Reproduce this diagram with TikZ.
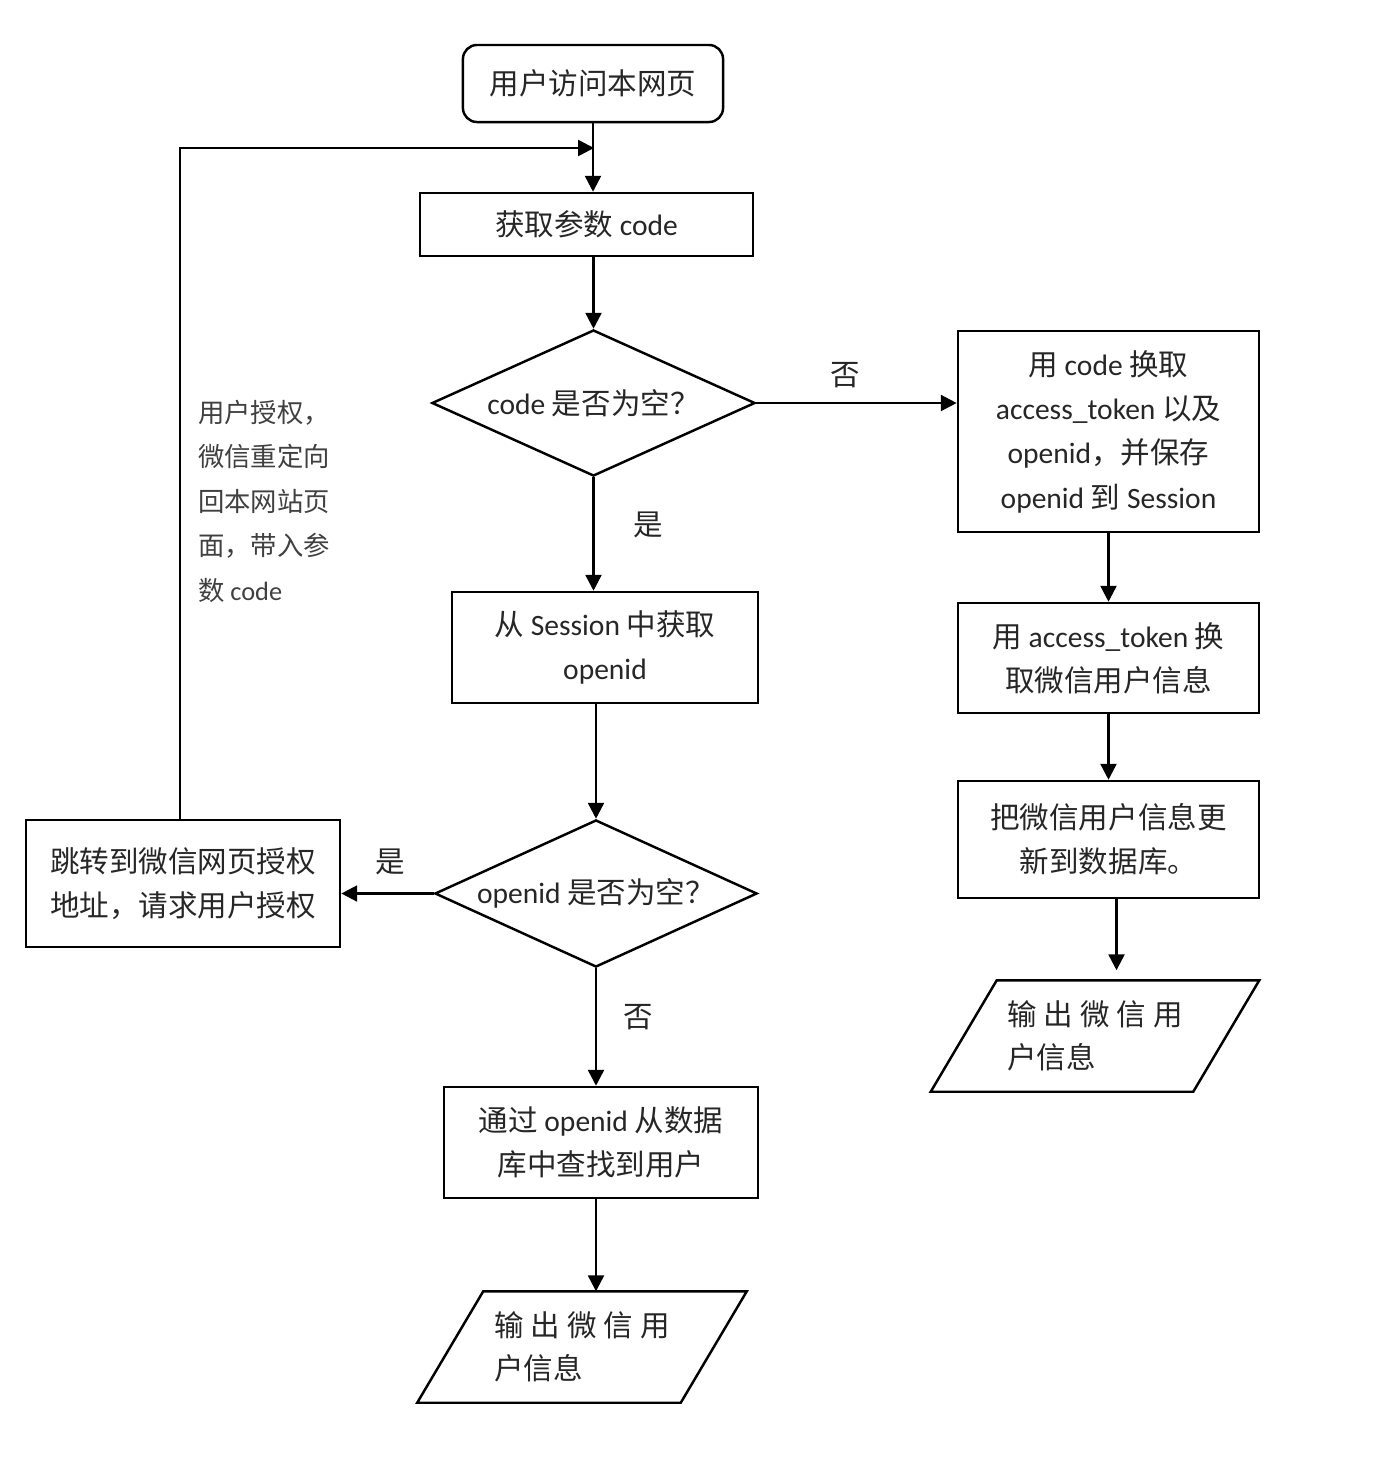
\documentclass[tikz,border=0pt]{standalone}
\usepackage{fontspec}
\setmainfont{Noto Sans CJK SC}
\newfontfamily\calfont{Carlito}
\newcommand\En[1]{{\calfont #1}}
\usetikzlibrary{shapes.geometric,arrows.meta}
\tikzset{
    procbox/.style={draw, line width=0.7pt, text=black!85, align=center, inner sep=0pt,
        font=\fontsize{8.4pt}{12.6pt}\selectfont},
    startbox/.style={procbox, rounded corners=4pt},
    decision/.style={procbox, diamond, aspect=2.2},
    iobox/.style={text=black!85, align=left, inner sep=0pt, minimum height=1.1cm,
        font=\fontsize{8.4pt}{12.3pt}\selectfont},
    arr/.style={line width=0.7pt, -{Triangle[length=4.5pt,width=4.5pt]}},
    lbl/.style={text=black!85, font=\fontsize{8.4pt}{12.6pt}\selectfont}
}
\newcommand\ParaBox[1]{%
    \draw[line width=0.7pt] ([xshift=0.33cm]#1.north west) -- ([xshift=0.33cm]#1.north east)
        -- ([xshift=-0.33cm]#1.south east) -- ([xshift=-0.33cm]#1.south west) -- cycle;
}
\begin{document}
\begin{tikzpicture}[x=0.01cm, y=-0.01cm]
    \useasboundingbox (0,0) rectangle (1396,1466);
    % middle column
    \node[startbox, minimum width=2.6cm, minimum height=0.77cm] (Start) at (593,83.5) {用户访问本网页};
    \node[procbox, minimum width=3.33cm, minimum height=0.63cm] (GetCode) at (586.5,224.5) {获取参数 \En{code}};
    \node[decision, minimum width=3.23cm, minimum height=1.46cm] (CodeEmpty) at (593.5,403) {\En{code} 是否为空？};
    \node[procbox, minimum width=3.06cm, minimum height=1.11cm] (SessionId) at (605,647.5) {从 \En{Session} 中获取\\\En{openid}};
    \node[decision, minimum width=3.22cm, minimum height=1.47cm] (IdEmpty) at (596,893.5) {\En{openid} 是否为空？};
    \node[procbox, minimum width=3.14cm, minimum height=1.11cm] (FindUser) at (601,1142.5) {通过 \En{openid} 从数据\\库中查找到用户};
    \node[iobox, minimum width=2.62cm] (OutLeft) at (582,1347) {输\kern2pt 出\kern2pt 微\kern2pt 信\kern2pt 用\\户信息};
    \ParaBox{OutLeft}
    % right column
    \node[procbox, minimum width=3.01cm, minimum height=2.01cm] (SwapToken) at (1108.5,431.5)
        {用 \En{code} 换取\\\En{access\_token} 以及\\\En{openid}，并保存\\\En{openid} 到 \En{Session}};
    \node[procbox, minimum width=3.01cm, minimum height=1.10cm] (FetchInfo) at (1108.5,658) {用 \En{access\_token} 换\\取微信用户信息};
    \node[procbox, minimum width=3.01cm, minimum height=1.17cm] (SaveInfo) at (1108.5,839.5) {把微信用户信息更\\新到数据库。};
    \node[iobox, minimum width=2.61cm] (OutRight) at (1095,1036) {输\kern2pt 出\kern2pt 微\kern2pt 信\kern2pt 用\\户信息};
    \ParaBox{OutRight}
    % left column
    \node[procbox, minimum width=3.14cm, minimum height=1.27cm] (Redirect) at (183,883.5) {跳转到微信网页授权\\地址，请求用户授权};
    \node[align=left, inner sep=0pt, text=black!75, font=\fontsize{7.5pt}{12.66pt}\selectfont] (AuthNote) at (264,501)
        {用户授权，\\微信重定向\\回本网站页\\面，带入参\\数 \En{code}};
    \coordinate (Back) at (594,148);
    % connectors
    \draw[arr] (Start.south) -- (Start.south |- GetCode.north);
    \draw[arr] (Redirect.north -| 180,0) |- (Back);
    \draw[arr] (GetCode.south -| CodeEmpty.north) -- (CodeEmpty.north);
    \draw[arr] (CodeEmpty.east) -- (SwapToken.west |- CodeEmpty.east);
    \draw[arr] (CodeEmpty.south) -- (CodeEmpty.south |- SessionId.north);
    \draw[arr] (IdEmpty.north |- SessionId.south) -- (IdEmpty.north);
    \draw[arr] (IdEmpty.west) -- (Redirect.east |- IdEmpty.west);
    \draw[arr] (IdEmpty.south) -- (IdEmpty.south |- FindUser.north);
    \draw[arr] (FindUser.south -| IdEmpty.south) -- (OutLeft.north -| IdEmpty.south);
    \draw[arr] (SwapToken.south) -- (FetchInfo.north);
    \draw[arr] (FetchInfo.south) -- (SaveInfo.north);
    \draw[arr, shorten >=0.1cm] ([xshift=0.08cm]SaveInfo.south) -- ([xshift=0.08cm]SaveInfo.south |- OutRight.north);
    % branch labels
    \node[lbl] (NoCode) at (845,375) {否};
    \node[lbl] (YesCode) at (648,525) {是};
    \node[lbl] (YesId) at (390,862) {是};
    \node[lbl] (NoId) at (638,1017) {否};
\end{tikzpicture}
\end{document}
